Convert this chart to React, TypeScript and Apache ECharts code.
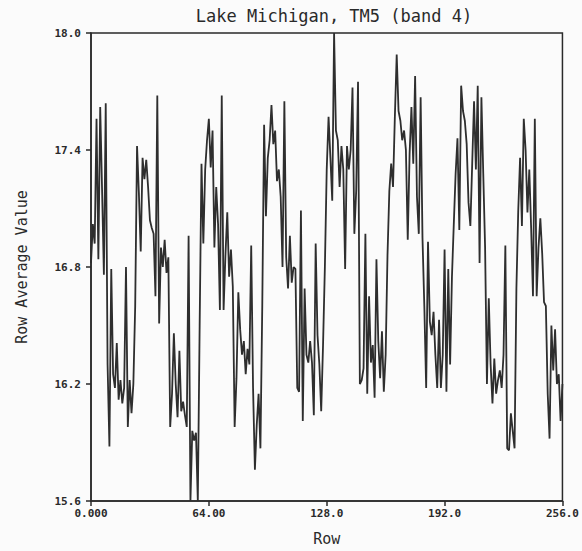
import React, { useEffect, useRef } from "react";
import * as echarts from "echarts";

// Row average values for rows 0..256
const rowValues: number[] = [
  // rows 0-42
  16.82, 17.02, 16.92, 17.56, 16.84, 17.62, 17.2, 16.76, 17.64, 16.3, 15.88, 16.79, 16.25,
  16.18, 16.41, 16.12, 16.22, 16.1, 16.18, 16.8, 15.98, 16.22, 16.05, 16.2, 16.6,
  17.42, 17.18, 16.88, 17.36, 17.25, 17.35, 17.21, 17.04, 17.0, 16.97, 16.65, 17.68, 16.51, 16.9, 16.8, 16.94, 16.77, 16.85,
  // rows 43-86
  15.98, 16.15, 16.46, 16.2, 16.03, 16.37, 16.06, 16.11, 16.04, 15.98, 16.96, 15.6, 15.96, 15.91, 15.95, 15.6,
  16.5, 17.33, 16.92, 17.3, 17.45, 17.56, 17.31, 17.5, 16.9, 17.21, 17.02, 16.58, 17.68, 16.58, 16.86, 17.08,
  16.75, 16.89, 16.7, 15.98, 16.23, 16.67, 16.48, 16.35, 16.42, 16.25, 16.38, 16.3,
  // rows 87-129
  16.91, 16.18, 15.76, 15.99, 16.15, 15.87, 16.6, 17.53, 17.06, 17.36, 17.45, 17.63, 17.43, 17.5, 17.24, 17.3,
  17.16, 16.8, 17.65, 16.85, 16.69, 16.96, 16.72, 16.8, 16.79, 16.18, 16.16, 17.09, 16.01, 16.69, 16.35, 16.31,
  16.42, 16.31, 16.04, 16.92, 16.45, 16.3, 16.06, 16.4, 16.8, 17.3, 17.57,
  // rows 130-172
  17.36, 17.14, 18.0, 17.5, 17.45, 17.21, 17.42, 17.3, 16.79, 17.42, 17.3, 17.4, 17.72, 16.97, 17.19, 17.75,
  16.2, 16.22, 16.28, 16.97, 16.15, 16.65, 16.31, 16.4, 16.13, 16.84, 16.42, 16.23, 16.47, 16.16, 16.35, 16.86,
  17.19, 17.33, 17.21, 17.57, 17.89, 17.6, 17.55, 17.45, 17.5, 17.4, 16.94,
  // rows 173-215
  17.38, 17.62, 17.33, 17.78, 17.16, 16.97, 17.67, 16.95, 16.6, 16.18, 16.93, 16.52, 16.45, 16.57, 16.35, 16.18,
  16.53, 16.18, 16.35, 16.89, 16.16, 16.79, 16.3, 16.75, 17.02, 17.28, 17.46, 16.99, 17.73, 17.6, 17.55, 17.43,
  17.13, 17.01, 17.33, 17.65, 17.3, 17.73, 16.82, 17.67, 17.28, 16.9, 16.2,
  // rows 216-256
  16.64, 16.3, 16.1, 16.33, 16.15, 16.22, 16.27, 16.18, 16.35, 16.91, 15.87, 15.86, 16.05, 15.96, 15.87, 16.69,
  17.09, 17.36, 17.01, 17.56, 17.4, 17.08, 17.3, 17.0, 16.65, 17.56, 16.65, 16.9, 17.05, 16.87, 16.62, 16.6,
  16.15, 15.92, 16.5, 16.27, 16.48, 16.2, 16.25, 16.01, 16.2,
];

const xTicks: number[] = [0, 64, 128, 192, 256];
const yTicks: number[] = [15.6, 16.2, 16.8, 17.4, 18.0];
const xTickLabels: string[] = ["0.000", "64.00", "128.0", "192.0", "256.0"];

const titleText = "Lake Michigan, TM5 (band 4)";
const xName = "Row";
const yName = "Row Average Value";

export default function App() {
  const ref = useRef<HTMLDivElement>(null);
  useEffect(() => {
    if (!ref.current) return;
    const chart = echarts.init(ref.current, null, { renderer: "svg" });
    const data = rowValues.map((v, i) => [i, v]);
    const mono = "'DejaVu Sans Mono', 'Liberation Mono', monospace";
    const ink = "#2a2a2a";
    chart.setOption({
      animation: false,
      backgroundColor: "#fbfbfb",
      title: {
        text: titleText,
        left: 329,
        textAlign: "center",
        top: 2,
        textStyle: { fontFamily: mono, fontSize: 17, fontWeight: "normal", color: ink },
      },
      grid: {
        left: 91,
        right: 15,
        top: 33,
        bottom: 45,
        show: true,
        borderColor: ink,
        borderWidth: 1.5,
        backgroundColor: "transparent",
      },
      xAxis: {
        type: "value",
        min: xTicks[0],
        max: xTicks[xTicks.length - 1],
        interval: xTicks[1] - xTicks[0],
        name: xName,
        nameLocation: "middle",
        nameGap: 30,
        nameTextStyle: { fontFamily: mono, fontSize: 15, color: ink },
        axisLine: { show: true, onZero: false, lineStyle: { color: ink, width: 1.5 } },
        axisTick: { show: true, inside: false, length: 5, lineStyle: { color: ink, width: 1.5 } },
        splitLine: { show: false },
        axisLabel: {
          margin: 7,
          fontFamily: mono,
          fontSize: 11,
          fontWeight: "bold",
          color: ink,
          formatter: (v: number) => {
            const idx = xTicks.indexOf(Math.round(v));
            return idx >= 0 ? xTickLabels[idx] : "";
          },
        },
      },
      yAxis: {
        type: "value",
        min: yTicks[0],
        max: yTicks[yTicks.length - 1],
        interval: 0.6,
        name: yName,
        nameLocation: "middle",
        nameGap: 62,
        nameRotate: 90,
        nameTextStyle: { fontFamily: mono, fontSize: 15, color: ink },
        axisLine: { show: true, lineStyle: { color: ink, width: 1.5 } },
        axisTick: { show: true, inside: false, length: 5, lineStyle: { color: ink, width: 1.5 } },
        splitLine: { show: false },
        axisLabel: {
          margin: 10,
          fontFamily: mono,
          fontSize: 11,
          fontWeight: "bold",
          color: ink,
          formatter: (v: number) => v.toFixed(1),
        },
      },
      series: [
        {
          type: "line",
          data,
          showSymbol: false,
          symbol: "none",
          lineStyle: { color: "#2e2e2e", width: 1.8 },
          clip: true,
        },
      ],
    });
    return () => chart.dispose();
  }, []);
  return (
    <div
      ref={ref}
      style={{ position: "absolute", left: 0, top: 0, width: 582, height: 551 }}
    />
  );
}
